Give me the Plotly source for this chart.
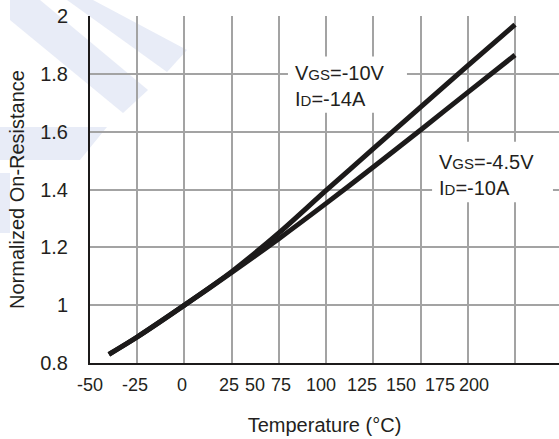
import plotly.graph_objects as go

# ---- data ----
temps = [-40, -25, 0, 25, 50, 75, 100, 125, 150, 175]
r_vgs10 = [0.83, 0.89, 1.0, 1.116, 1.25, 1.397, 1.541, 1.685, 1.828, 1.97]
r_vgs45 = [0.83, 0.89, 1.0, 1.113, 1.23, 1.352, 1.478, 1.606, 1.736, 1.865]

x_tick_text = ["-50", "-25", "0", "25", "50", "75", "100", "125", "150", "175", "200"]
x_tick_pos = [-50, -26.2, -1.3, 23.6, 37.4, 51.1, 72.3, 94.0, 114.6, 135.3, 153.3]
y_tick_vals = [0.8, 1.0, 1.2, 1.4, 1.6, 1.8, 2.0]
y_tick_text = ["0.8", "1", "1.2", "1.4", "1.6", "1.8", "2"]

FONT = "Liberation Sans, Arial, sans-serif"
TXT = "#231f20"
GRID = "#a3a3a3"
FS = 20
W, H = 559, 439
L, R, T, B = 90, 0, 16, 76

fig = go.Figure()
for ys in (r_vgs10, r_vgs45):
    fig.add_trace(go.Scatter(x=temps, y=ys, mode="lines",
                             line=dict(color="#1c1a1a", width=5, shape="spline", smoothing=0.8),
                             showlegend=False, hoverinfo="skip"))

# watermark (faint)
def px2paper(px, py):
    return (px - L) / (W - L - R), (H - B - py) / (H - T - B)

def poly(pts):
    s = ""
    for i, (px, py) in enumerate(pts):
        x, y = px2paper(px, py)
        s += ("M" if i == 0 else "L") + f"{x:.4f},{y:.4f} "
    return s + "Z"

wm = "#e8ecf7"
for pts in [
    [(40, 0), (148, 90), (123, 113), (10, 20), (10, 0)],
    [(93, 0), (187, 50), (167, 72), (67, 0)],
    [(0, 127), (107, 127), (80, 160), (0, 160)],
    [(0, 173), (10, 173), (10, 233), (0, 233)],
]:
    fig.add_shape(type="path", path=poly(pts), xref="paper", yref="paper",
                  fillcolor=wm, line=dict(width=0), layer="below")

# white boxes behind labels (between grid and traces)
for x0, x1, y0, y1 in [(54.8, 117.8, 1.665, 1.860), (131.1, 195.1, 1.356, 1.565)]:
    fig.add_shape(type="rect", x0=x0, x1=x1, y0=y0, y1=y1, xref="x", yref="y",
                  fillcolor="white", line=dict(width=0), layer="between")

sub = '<span style="font-size:15px">{}</span>'
fig.add_annotation(x=57.5, y=1.757, xref="x", yref="y", xanchor="left", yanchor="middle",
                   align="left", showarrow=False,
                   text=f"V{sub.format('GS')}=-10V<br>I{sub.format('D')}=-14A",
                   font=dict(family=FONT, size=FS, color=TXT))
fig.add_annotation(x=133.7, y=1.45, xref="x", yref="y", xanchor="left", yanchor="middle",
                   align="left", showarrow=False,
                   text=f"V{sub.format('GS')}=-4.5V<br>I{sub.format('D')}=-10A",
                   font=dict(family=FONT, size=FS, color=TXT))

fig.update_layout(
    width=W, height=H,
    margin=dict(l=L, r=R, t=T, b=B, autoexpand=False),
    paper_bgcolor="white", plot_bgcolor="white",
    font=dict(family=FONT, size=FS, color=TXT),
    showlegend=False,
)
fig.update_xaxes(
    range=[-50, -50 + (W - L - R) / 1.8889],
    tickmode="array", tickvals=x_tick_pos, ticktext=x_tick_text, tickangle=0,
    tickfont=dict(family=FONT, size=18, color=TXT),
    showgrid=False, zeroline=False, ticks="", ticklabelstandoff=4,
    showline=True, linecolor="#1c1a1a", linewidth=2,
    minor=dict(tick0=-50, dtick=25, showgrid=True, gridcolor=GRID, gridwidth=2, ticks=""),
    title=dict(text="Temperature (°C)", font=dict(family=FONT, size=FS, color=TXT), standoff=24),
    automargin=False,
)
fig.update_yaxes(
    range=[0.8, 2.0],
    tickmode="array", tickvals=y_tick_vals, ticktext=y_tick_text,
    showgrid=True, gridcolor=GRID, gridwidth=2, zeroline=False, ticks="",
    ticklabelstandoff=16,
    showline=True, linecolor="#1c1a1a", linewidth=2,
    title=dict(text="Normalized On-Resistance", font=dict(family=FONT, size=FS, color=TXT), standoff=10),
    automargin=False,
)

fig.write_html("out.html")
